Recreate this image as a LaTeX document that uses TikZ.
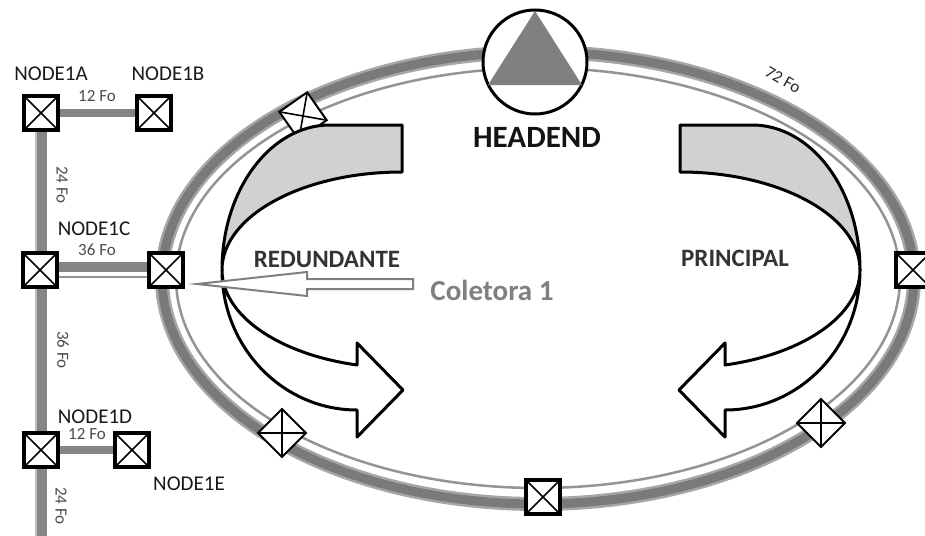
\documentclass[tikz,border=0pt]{standalone}
\usepackage{fontspec}
\setmainfont{Carlito}
\usetikzlibrary{backgrounds}
\begin{document}
\begin{tikzpicture}[x=1pt,y=-1pt,
 xbox/.style={draw=black, fill=white, line width=3.5pt, minimum size=34pt, inner sep=0pt, outer sep=0pt},
 rbox/.style={xbox, line width=2pt, minimum size=34pt},
 xline/.style={line width=1.6pt},
 bandedge/.style={draw=black!35, line width=14pt},
 band/.style={draw=black!52, line width=9pt},
 thinband/.style={draw=black!42, line width=2.5pt},
 tube/.style={draw=black!48, line width=12pt},
 stripe/.style={draw=black!25, line width=2.5pt},
 backface/.style={draw=black, line width=3pt, fill=black!18, line join=round},
 frontface/.style={draw=black, line width=3pt, fill=white, line join=round},
 collarrow/.style={draw=black!50, line width=2pt, fill=white, line join=miter},
 lbl/.style={font=\fontsize{21}{22}\selectfont, text=black!90, inner sep=0pt},
 fo/.style={font=\fontsize{17}{18}\selectfont, text=black!70, inner sep=0pt},
 title/.style={font=\bfseries\fontsize{31}{32}\selectfont, inner sep=0pt, text=black!92},
 flow/.style={font=\bfseries\fontsize{25}{26}\selectfont, inner sep=0pt, text=black!80},
 coll/.style={font=\bfseries\fontsize{29}{30}\selectfont, inner sep=0pt, text=black!50},
]
\useasboundingbox (0,0) rectangle (925,535);

% headend
\node[circle, draw, line width=3pt, fill=white, minimum size=104pt, inner sep=0pt] (he) at (535,62) {};
\fill[black!50] (535,11) -- (582,85) -- (488,85) -- cycle;

% ring nodes
\node[rbox, rotate=35] (r1) at (303,116) {};
\node[xbox] (rL) at (166,270) {};
\node[xbox] (rR) at (913,270) {};
\node[rbox, rotate=45] (r2) at (282,433) {};
\node[xbox] (rB) at (543,497) {};
\node[rbox, rotate=45] (r3) at (821,423) {};

% tree nodes
\node[xbox] (n1a) at (41,113) {};
\node[xbox] (n1b) at (154,113) {};
\node[xbox] (n1c) at (40,270) {};
\node[xbox] (n1d) at (41,450) {};
\node[xbox] (n1e) at (132,450) {};
\coordinate (bot) at (41,545);

\foreach \n in {n1a,n1b,n1c,n1d,n1e,rL,rR,rB,r1,r2,r3}
  \draw[xline] (\n.north west) -- (\n.south east) (\n.north east) -- (\n.south west);

\begin{scope}[on background layer]
  \fill[white] (0,0) rectangle (925,535);
  \draw[bandedge] (538,278) ellipse [x radius=376, y radius=226];
  \draw[band] (538,278) ellipse [x radius=376, y radius=226];
  \draw[thinband] (538,278) ellipse [x radius=362, y radius=210];
  \draw[tube] (n1a.center) -- (bot);
  \draw[stripe] ([xshift=-5pt]n1a.center) -- ([xshift=-5pt]bot);
  \draw[tube, line width=8pt] (n1a.center) -- (n1b.center);
  \draw[tube, line width=8pt] (n1d.center) -- (n1e.center);
  \draw[tube, line width=10pt] ([yshift=3pt]n1c.center) -- ([yshift=3pt]rL.center);
  \draw[thinband] ([yshift=-7pt]n1c.center) -- ([yshift=-7pt]rL.center);
\end{scope}

% flow arrows
\draw[backface] (402,125) -- (330,125) arc[start angle=-90, end angle=-180, x radius=108, y radius=145]
   arc[start angle=180, end angle=270, x radius=180, y radius=98] -- cycle;
\draw[frontface] (222,270) arc[start angle=180, end angle=90, x radius=135, y radius=140]
   -- (357,437) -- (403,390) -- (357,343) -- (357,365)
   arc[start angle=104.48, end angle=180, x radius=180, y radius=98] -- cycle;
\begin{scope}[shift={(1082,0)}, xscale=-1]
\draw[backface] (402,125) -- (330,125) arc[start angle=-90, end angle=-180, x radius=108, y radius=145]
   arc[start angle=180, end angle=270, x radius=180, y radius=98] -- cycle;
\draw[frontface] (222,270) arc[start angle=180, end angle=90, x radius=135, y radius=140]
   -- (357,437) -- (403,390) -- (357,343) -- (357,365)
   arc[start angle=104.48, end angle=180, x radius=180, y radius=98] -- cycle;
\end{scope}

% Coletora arrow
\draw[collarrow] (197,284) -- (307,272) -- (307,279) -- (413,279) -- (413,289) -- (307,289) -- (307,296) -- cycle;

% texts
\node[lbl] (t1a) at (51,74) {NODE1A};
\node[lbl] (t1b) at (168,74) {NODE1B};
\node[lbl] (t1c) at (94,229) {NODE1C};
\node[lbl] (t1d) at (95,417) {NODE1D};
\node[lbl] (t1e) at (189,484) {NODE1E};
\node[fo] (f1) at (97,96) {12 Fo};
\node[fo, rotate=-90] (f2) at (62,185) {24 Fo};
\node[fo] (f3) at (97,250) {36 Fo};
\node[fo, rotate=-90] (f4) at (63,350) {36 Fo};
\node[fo] (f5) at (87,434) {12 Fo};
\node[fo, rotate=-90] (f6) at (61,506) {24 Fo};
\node[fo, rotate=-30, text=black!85] (f7) at (783,80) {72 Fo};
\node[title] (tHE) at (537,137) {HEADEND};
\node[flow] (tR) at (327,259) {REDUNDANTE};
\node[flow] (tP) at (735,258) {PRINCIPAL};
\node[coll] (tC) at (492,290) {Coletora 1};
\end{tikzpicture}
\end{document}
